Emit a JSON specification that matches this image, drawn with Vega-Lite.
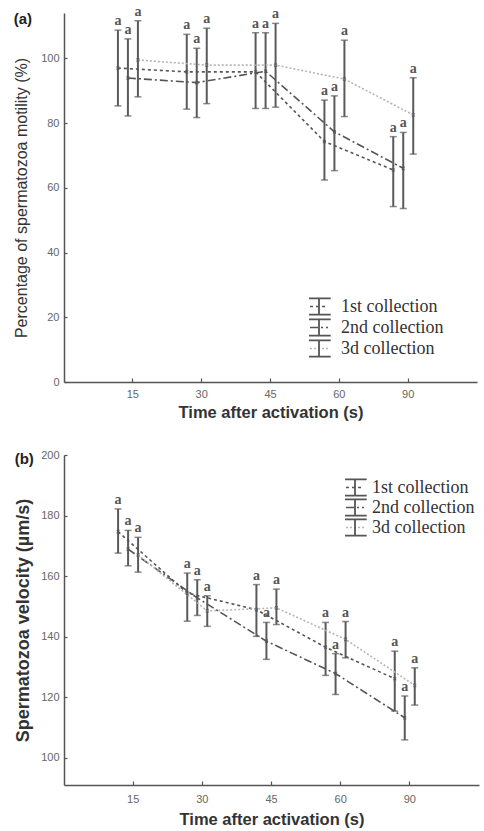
{
  "$schema": "https://vega.github.io/schema/vega-lite/v6.json",
  "background": "white",
  "padding": {"left": 13, "top": 4, "right": 5, "bottom": 0},
  "spacing": 28,
  "config": {
    "view": {"stroke": null},
    "axis": {"domainColor": "#555", "domainWidth": 1.5, "tickColor": "#555", "tickWidth": 1.2, "tickSize": 3, "labelColor": "#666", "labelFont": "Liberation Sans", "labelFontSize": 11, "titleFont": "Liberation Sans", "titleFontSize": 15, "titleFontWeight": "normal", "titleColor": "#333", "grid": false},
    "title": {"font": "Liberation Sans", "fontSize": 15, "fontWeight": "bold", "color": "#222", "anchor": "start", "frame": "bounds"}
  },
  "datasets": {
    "motility": [
      {"time": 15, "collection": "1st collection", "mean": 97.0, "lo": 85.3, "hi": 108.7},
      {"time": 15, "collection": "2nd collection", "mean": 93.9, "lo": 82.2, "hi": 106.0},
      {"time": 15, "collection": "3d collection", "mean": 99.5, "lo": 88.1, "hi": 111.6},
      {"time": 30, "collection": "1st collection", "mean": 95.8, "lo": 84.3, "hi": 107.4},
      {"time": 30, "collection": "2nd collection", "mean": 92.5, "lo": 81.7, "hi": 103.1},
      {"time": 30, "collection": "3d collection", "mean": 97.9, "lo": 86.0, "hi": 109.3},
      {"time": 45, "collection": "1st collection", "mean": 95.8, "lo": 84.5, "hi": 107.9},
      {"time": 45, "collection": "2nd collection", "mean": 96.0, "lo": 84.5, "hi": 107.9},
      {"time": 45, "collection": "3d collection", "mean": 97.9, "lo": 84.9, "hi": 110.8},
      {"time": 60, "collection": "1st collection", "mean": 74.3, "lo": 62.4, "hi": 87.1},
      {"time": 60, "collection": "2nd collection", "mean": 77.3, "lo": 65.3, "hi": 88.4},
      {"time": 60, "collection": "3d collection", "mean": 93.6, "lo": 82.0, "hi": 105.6},
      {"time": 90, "collection": "1st collection", "mean": 65.5, "lo": 54.2, "hi": 75.8},
      {"time": 90, "collection": "2nd collection", "mean": 66.0, "lo": 53.6, "hi": 77.1},
      {"time": 90, "collection": "3d collection", "mean": 82.5, "lo": 70.4, "hi": 94.0}
    ],
    "velocity": [
      {"time": 15, "collection": "1st collection", "mean": 174.7, "lo": 167.6, "hi": 182.2},
      {"time": 15, "collection": "2nd collection", "mean": 168.9, "lo": 163.4, "hi": 175.1},
      {"time": 15, "collection": "3d collection", "mean": 167.0, "lo": 161.3, "hi": 172.8},
      {"time": 30, "collection": "1st collection", "mean": 154.4, "lo": 145.1, "hi": 161.0},
      {"time": 30, "collection": "2nd collection", "mean": 152.8, "lo": 147.0, "hi": 158.8},
      {"time": 30, "collection": "3d collection", "mean": 148.5, "lo": 143.4, "hi": 153.5},
      {"time": 45, "collection": "1st collection", "mean": 148.9, "lo": 140.1, "hi": 157.2},
      {"time": 45, "collection": "2nd collection", "mean": 138.5, "lo": 132.5, "hi": 144.7},
      {"time": 45, "collection": "3d collection", "mean": 149.5, "lo": 144.0, "hi": 155.7},
      {"time": 60, "collection": "1st collection", "mean": 136.5, "lo": 127.2, "hi": 144.7},
      {"time": 60, "collection": "2nd collection", "mean": 127.8, "lo": 120.9, "hi": 134.4},
      {"time": 60, "collection": "3d collection", "mean": 139.1, "lo": 133.0, "hi": 145.0},
      {"time": 90, "collection": "1st collection", "mean": 126.1, "lo": 115.4, "hi": 135.2},
      {"time": 90, "collection": "2nd collection", "mean": 113.2, "lo": 105.9, "hi": 120.4},
      {"time": 90, "collection": "3d collection", "mean": 123.9, "lo": 117.4, "hi": 129.7}
    ]
  },
  "vconcat": [
    {
      "title": {"text": "(a)", "dy": 26},
      "width": 413,
      "height": 369,
      "data": {"name": "motility"},
      "encoding": {
        "x": {"field": "time", "type": "ordinal", "scale": {"paddingInner": 0, "paddingOuter": 0.5}, "axis": {"title": "Time after activation (s)", "titleFontWeight": "bold", "titleFontSize": 16.5, "labelAngle": 0, "tickSize": -4, "labelPadding": 10, "titlePadding": 5}},
        "xOffset": {"field": "collection", "scale": {"range": [14.5, 44.5]}}
      },
      "layer": [
        {"mark": {"type": "rule", "color": "#5a5a5a", "strokeWidth": 2},
         "encoding": {"y": {"field": "lo", "type": "quantitative", "scale": {"domain": [0, 114], "nice": false}, "axis": {"title": "Percentage of spermatozoa motility (%)", "titleFontSize": 16, "values": [0, 20, 40, 60, 80, 100], "tickSize": -3, "labelPadding": 8, "titlePadding": 11}}, "y2": {"field": "hi"}}},
        {"mark": {"type": "tick", "orient": "horizontal", "size": 7, "thickness": 1.5, "color": "#5a5a5a"},
         "encoding": {"y": {"field": "lo", "type": "quantitative", "scale": {"domain": [0, 114], "nice": false}}}},
        {"mark": {"type": "tick", "orient": "horizontal", "size": 7, "thickness": 1.5, "color": "#5a5a5a"},
         "encoding": {"y": {"field": "hi", "type": "quantitative", "scale": {"domain": [0, 114], "nice": false}}}},
        {"mark": {"type": "text", "baseline": "bottom", "dy": -2, "font": "Liberation Serif", "fontWeight": "bold", "fontSize": 14, "color": "#555"},
         "encoding": {"y": {"field": "hi", "type": "quantitative", "scale": {"domain": [0, 114], "nice": false}}, "text": {"value": "a"}}},
        {"mark": {"type": "line", "strokeWidth": 1.6},
         "encoding": {
           "y": {"field": "mean", "type": "quantitative", "scale": {"domain": [0, 114], "nice": false}},
           "color": {"field": "collection", "type": "nominal", "scale": {"domain": ["1st collection", "2nd collection", "3d collection"], "range": ["#555555", "#555555", "#b5b5b5"]},
             "legend": {"orient": "none", "legendX": 245, "legendY": 284, "title": null, "symbolType": "stroke", "symbolSize": 324, "symbolStrokeWidth": 1.6, "labelOpacity": 0, "labelOffset": 12, "labelFont": "Liberation Serif", "labelFontSize": 18, "rowPadding": 2, "clipHeight": 19}},
           "strokeDash": {"field": "collection", "type": "nominal", "scale": {"domain": ["1st collection", "2nd collection", "3d collection"], "range": [[3, 3], [8, 3, 2, 3], [2, 2]]},
             "legend": {"orient": "none", "legendX": 245, "legendY": 284, "title": null, "symbolType": "stroke", "symbolSize": 324, "symbolStrokeWidth": 1.6, "labelOpacity": 0, "labelOffset": 12, "labelFont": "Liberation Serif", "labelFontSize": 18, "rowPadding": 2, "clipHeight": 19}}
         }},
        {"mark": {"type": "point", "filled": false, "size": 6, "strokeWidth": 1.5, "color": "#555"},
         "encoding": {
           "y": {"field": "mean", "type": "quantitative", "scale": {"domain": [0, 114], "nice": false}},
           "shape": {"field": "collection", "type": "nominal", "scale": {"range": ["M-1.3,-0.9H1.3M0,-0.9V0.9M-1.3,0.9H1.3", "M-1.3,-0.9H1.3M0,-0.9V0.9M-1.3,0.9H1.3", "M-1.3,-0.9H1.3M0,-0.9V0.9M-1.3,0.9H1.3"]},
             "legend": {"orient": "none", "legendX": 245, "legendY": 284, "title": null, "symbolSize": 324, "symbolStrokeColor": "#555", "symbolStrokeWidth": 1.8, "symbolFillColor": "transparent", "symbolOpacity": 1, "labelOffset": 12, "labelFont": "Liberation Serif", "labelFontSize": 18, "labelColor": "#333", "rowPadding": 2, "clipHeight": 19}}
         }}
      ]
    },
    {
      "title": {"text": "(b)", "dy": 22},
      "width": 415,
      "height": 330,
      "data": {"name": "velocity"},
      "encoding": {
        "x": {"field": "time", "type": "ordinal", "scale": {"paddingInner": 0, "paddingOuter": 0.5}, "axis": {"title": "Time after activation (s)", "titleFontWeight": "bold", "titleFontSize": 16.5, "labelAngle": 0, "tickSize": -4, "labelPadding": 12, "titlePadding": 7}},
        "xOffset": {"field": "collection", "scale": {"range": [14.5, 44.5]}}
      },
      "layer": [
        {"mark": {"type": "rule", "color": "#5a5a5a", "strokeWidth": 2},
         "encoding": {"y": {"field": "lo", "type": "quantitative", "scale": {"domain": [91, 200], "nice": false}, "axis": {"title": "Spermatozoa velocity (µm/s)", "titleFontWeight": "bold", "titleFontSize": 18, "values": [100, 120, 140, 160, 180, 200], "tickSize": -3, "labelPadding": 8, "titlePadding": 8}}, "y2": {"field": "hi"}}},
        {"mark": {"type": "tick", "orient": "horizontal", "size": 7, "thickness": 1.5, "color": "#5a5a5a"},
         "encoding": {"y": {"field": "lo", "type": "quantitative", "scale": {"domain": [91, 200], "nice": false}}}},
        {"mark": {"type": "tick", "orient": "horizontal", "size": 7, "thickness": 1.5, "color": "#5a5a5a"},
         "encoding": {"y": {"field": "hi", "type": "quantitative", "scale": {"domain": [91, 200], "nice": false}}}},
        {"mark": {"type": "text", "baseline": "bottom", "dy": -2, "font": "Liberation Serif", "fontWeight": "bold", "fontSize": 14, "color": "#555"},
         "encoding": {"y": {"field": "hi", "type": "quantitative", "scale": {"domain": [91, 200], "nice": false}}, "text": {"value": "a"}}},
        {"mark": {"type": "line", "strokeWidth": 1.6},
         "encoding": {
           "y": {"field": "mean", "type": "quantitative", "scale": {"domain": [91, 200], "nice": false}},
           "color": {"field": "collection", "type": "nominal", "scale": {"domain": ["1st collection", "2nd collection", "3d collection"], "range": ["#555555", "#555555", "#b5b5b5"]},
             "legend": {"orient": "none", "legendX": 281, "legendY": 23, "title": null, "symbolType": "stroke", "symbolSize": 324, "symbolStrokeWidth": 1.6, "labelOpacity": 0, "labelOffset": 7, "labelFont": "Liberation Serif", "labelFontSize": 18, "rowPadding": 1, "clipHeight": 19}},
           "strokeDash": {"field": "collection", "type": "nominal", "scale": {"domain": ["1st collection", "2nd collection", "3d collection"], "range": [[3, 3], [8, 3, 2, 3], [2, 2]]},
             "legend": {"orient": "none", "legendX": 281, "legendY": 23, "title": null, "symbolType": "stroke", "symbolSize": 324, "symbolStrokeWidth": 1.6, "labelOpacity": 0, "labelOffset": 7, "labelFont": "Liberation Serif", "labelFontSize": 18, "rowPadding": 1, "clipHeight": 19}}
         }},
        {"mark": {"type": "point", "filled": false, "size": 6, "strokeWidth": 1.5, "color": "#555"},
         "encoding": {
           "y": {"field": "mean", "type": "quantitative", "scale": {"domain": [91, 200], "nice": false}},
           "shape": {"field": "collection", "type": "nominal", "scale": {"range": ["M-1.3,-0.9H1.3M0,-0.9V0.9M-1.3,0.9H1.3", "M-1.3,-0.9H1.3M0,-0.9V0.9M-1.3,0.9H1.3", "M-1.3,-0.9H1.3M0,-0.9V0.9M-1.3,0.9H1.3"]},
             "legend": {"orient": "none", "legendX": 281, "legendY": 23, "title": null, "symbolSize": 324, "symbolStrokeColor": "#555", "symbolStrokeWidth": 1.8, "symbolFillColor": "transparent", "symbolOpacity": 1, "labelOffset": 7, "labelFont": "Liberation Serif", "labelFontSize": 18, "labelColor": "#333", "rowPadding": 1, "clipHeight": 19}}
         }}
      ]
    }
  ],
  "resolve": {"legend": {"color": "independent", "strokeDash": "independent", "shape": "independent"}, "scale": {"y": "independent", "color": "independent", "strokeDash": "independent", "shape": "independent"}}
}
